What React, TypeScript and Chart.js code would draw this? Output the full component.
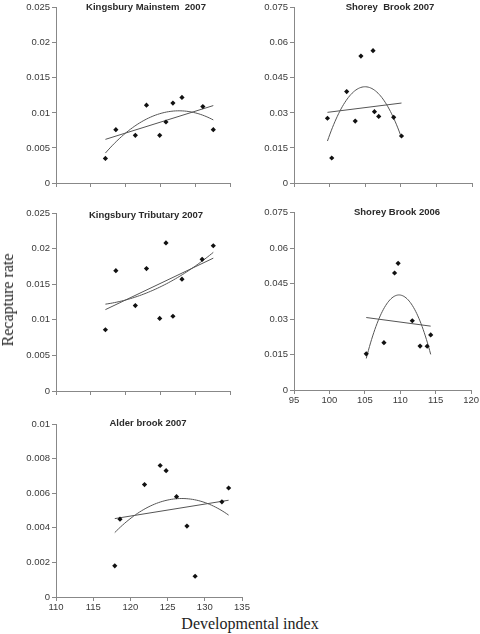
import React, { useEffect, useRef } from "react";
import { Chart, registerables } from "chart.js";

Chart.register(...registerables);

// ---------- Data ----------
const mainstemX = [117.1, 118.6, 121.4, 123.0, 124.9, 125.8, 126.8, 128.1, 131.1, 132.6];
const mainstemY = [0.0035, 0.0076, 0.0068, 0.0111, 0.0068, 0.0087, 0.0114, 0.0122, 0.0109, 0.0076];

const tributaryX = [117.1, 118.6, 121.4, 123.0, 124.9, 125.8, 126.8, 128.1, 131.0, 132.6];
const tributaryY = [0.0086, 0.0169, 0.0120, 0.0172, 0.0102, 0.0208, 0.0105, 0.0157, 0.0185, 0.0204];

const alderX = [117.9, 118.6, 121.9, 124.0, 124.8, 126.2, 127.6, 128.7, 132.3, 133.2];
const alderY = [0.0018, 0.0045, 0.0065, 0.0076, 0.0073, 0.0058, 0.0041, 0.0012, 0.0055, 0.0063];

const shorey07X = [99.7, 100.3, 102.4, 103.6, 104.4, 106.1, 106.3, 106.9, 109.0, 110.1];
const shorey07Y = [0.0277, 0.0107, 0.0391, 0.0265, 0.0543, 0.0566, 0.0305, 0.0285, 0.0281, 0.0201];

const shorey06X = [105.2, 107.7, 109.2, 109.7, 111.7, 112.8, 113.8, 114.3];
const shorey06Y = [0.0153, 0.0200, 0.0495, 0.0536, 0.0293, 0.0186, 0.0185, 0.0233];

const leftXTicks = [110, 115, 120, 125, 130, 135];
const rightXTicks = [95, 100, 105, 110, 115, 120];
const smallYTicks = [0, 0.005, 0.01, 0.015, 0.02, 0.025];
const largeYTicks = [0, 0.015, 0.03, 0.045, 0.06, 0.075];
const alderYTicks = [0, 0.002, 0.004, 0.006, 0.008, 0.01];

const titles = [
  "Kingsbury Mainstem  2007",
  "Shorey  Brook 2007",
  "Kingsbury Tributary 2007",
  "Shorey Brook 2006",
  "Alder brook 2007",
];

// ---------- Regression helpers (computed from the data above) ----------
function linFit(xs: number[], ys: number[]) {
  const n = xs.length;
  const mx = xs.reduce((a, b) => a + b, 0) / n;
  const my = ys.reduce((a, b) => a + b, 0) / n;
  let sxy = 0, sxx = 0;
  for (let i = 0; i < n; i++) {
    sxy += (xs[i] - mx) * (ys[i] - my);
    sxx += (xs[i] - mx) * (xs[i] - mx);
  }
  const b = sxy / sxx;
  const a = my - b * mx;
  return (x: number) => a + b * x;
}

function quadFit(xs: number[], ys: number[]) {
  const n = xs.length;
  const mx = xs.reduce((a, b) => a + b, 0) / n;
  const s = [0, 0, 0, 0, 0];
  const t = [0, 0, 0];
  for (let i = 0; i < n; i++) {
    const u = xs[i] - mx;
    let p = 1;
    for (let k = 0; k < 5; k++) {
      s[k] += p;
      if (k < 3) t[k] += p * ys[i];
      p *= u;
    }
  }
  const M = [
    [s[0], s[1], s[2], t[0]],
    [s[1], s[2], s[3], t[1]],
    [s[2], s[3], s[4], t[2]],
  ];
  for (let c = 0; c < 3; c++) {
    let piv = c;
    for (let r = c + 1; r < 3; r++) if (Math.abs(M[r][c]) > Math.abs(M[piv][c])) piv = r;
    [M[c], M[piv]] = [M[piv], M[c]];
    for (let r = 0; r < 3; r++) {
      if (r === c) continue;
      const f = M[r][c] / M[c][c];
      for (let k = c; k < 4; k++) M[r][k] -= f * M[c][k];
    }
  }
  const c0 = M[0][3] / M[0][0];
  const c1 = M[1][3] / M[1][1];
  const c2 = M[2][3] / M[2][2];
  return (x: number) => {
    const u = x - mx;
    return c0 + c1 * u + c2 * u * u;
  };
}

const titlePlugin = {
  id: "panelTitle",
  afterDraw(chart: any, _args: any, opts: any) {
    if (!opts || !opts.text) return;
    const ctx = chart.ctx;
    ctx.save();
    ctx.font = 'bold 9.5px "Liberation Sans", Arial, sans-serif';
    ctx.fillStyle = "#2a2a2a";
    ctx.textAlign = "center";
    ctx.textBaseline = "middle";
    ctx.fillText(opts.text, opts.x, opts.y);
    ctx.restore();
  },
};

type PanelProps = {
  xs: number[];
  ys: number[];
  xTicks: number[];
  yTicks: number[];
  showXLabels: boolean;
  title: string;
  left: number;
  top: number;
  width: number;
  height: number;
  yAxisWidth: number;
  xAxisHeight: number;
  padTop: number;
  padRight: number;
  titleX: number;
  titleY: number;
};

function Panel(p: PanelProps) {
  const ref = useRef<HTMLCanvasElement | null>(null);
  useEffect(() => {
    if (!ref.current) return;
    const lin = linFit(p.xs, p.ys);
    const quad = quadFit(p.xs, p.ys);
    const x0 = Math.min(...p.xs);
    const x1 = Math.max(...p.xs);
    const curve: { x: number; y: number }[] = [];
    const N = 60;
    for (let i = 0; i <= N; i++) {
      const x = x0 + ((x1 - x0) * i) / N;
      curve.push({ x, y: quad(x) });
    }
    const line = [
      { x: x0, y: lin(x0) },
      { x: x1, y: lin(x1) },
    ];
    const pts = p.xs.map((x, i) => ({ x, y: p.ys[i] }));
    const tickFont = { family: '"Liberation Sans", Arial, sans-serif', size: 9.5 };
    const chart = new Chart(ref.current, {
      type: "scatter",
      data: {
        datasets: [
          {
            data: pts,
            pointStyle: "rectRot",
            pointRadius: 2.6,
            backgroundColor: "#111",
            borderColor: "#111",
            borderWidth: 0,
            showLine: false,
          },
          {
            data: line,
            showLine: true,
            pointRadius: 0,
            borderColor: "#555",
            borderWidth: 1,
            fill: false,
          },
          {
            data: curve,
            showLine: true,
            pointRadius: 0,
            borderColor: "#555",
            borderWidth: 1,
            fill: false,
            tension: 0,
          },
        ],
      },
      options: {
        animation: false,
        responsive: false,
        maintainAspectRatio: false,
        devicePixelRatio: 1,
        layout: { padding: { top: p.padTop, right: p.padRight, left: 0, bottom: 0 } },
        plugins: {
          legend: { display: false },
          tooltip: { enabled: false },
          // @ts-ignore
          panelTitle: { text: p.title, x: p.titleX - p.left, y: p.titleY - p.top },
        },
        scales: {
          x: {
            type: "linear",
            min: p.xTicks[0],
            max: p.xTicks[p.xTicks.length - 1],
            afterBuildTicks: (s: any) => {
              s.ticks = p.xTicks.map((v) => ({ value: v }));
            },
            afterFit: (s: any) => {
              s.height = p.xAxisHeight;
            },
            ticks: {
              display: p.showXLabels,
              color: "#3a3a3a",
              font: tickFont,
              padding: 1,
              maxRotation: 0,
              autoSkip: false,
            },
            grid: { drawOnChartArea: false, drawTicks: true, tickLength: 4, color: "#888", lineWidth: 1 },
            border: { display: true, color: "#888", width: 1 },
          },
          y: {
            type: "linear",
            min: p.yTicks[0],
            max: p.yTicks[p.yTicks.length - 1],
            afterBuildTicks: (s: any) => {
              s.ticks = p.yTicks.map((v) => ({ value: v }));
            },
            afterFit: (s: any) => {
              s.width = p.yAxisWidth;
            },
            ticks: {
              color: "#3a3a3a",
              font: tickFont,
              padding: 2,
              autoSkip: false,
              callback: (v: any) => String(+Number(v).toFixed(4)),
            },
            grid: { drawOnChartArea: false, drawTicks: true, tickLength: 4, color: "#888", lineWidth: 1 },
            border: { display: true, color: "#888", width: 1 },
          },
        },
      },
      plugins: [titlePlugin],
    } as any);
    return () => chart.destroy();
  }, []);
  return (
    <canvas
      ref={ref}
      width={p.width}
      height={p.height}
      style={{ position: "absolute", left: p.left, top: p.top, width: p.width, height: p.height }}
    />
  );
}

export default function App() {
  return (
    <div
      style={{
        position: "absolute",
        left: 0,
        top: 0,
        width: 480,
        height: 634,
        overflow: "hidden",
        background: "#fff",
      }}
    >
      <Panel
        xs={mainstemX} ys={mainstemY} xTicks={leftXTicks} yTicks={smallYTicks} showXLabels={false}
        title={titles[0]} left={0} top={0} width={244} height={200}
        yAxisWidth={56} xAxisHeight={17} padTop={6} padRight={14} titleX={146} titleY={7.5}
      />
      <Panel
        xs={shorey07X} ys={shorey07Y} xTicks={rightXTicks} yTicks={largeYTicks} showXLabels={false}
        title={titles[1]} left={240} top={0} width={240} height={200}
        yAxisWidth={54} xAxisHeight={17} padTop={6} padRight={8} titleX={390} titleY={7}
      />
      <Panel
        xs={tributaryX} ys={tributaryY} xTicks={leftXTicks} yTicks={smallYTicks} showXLabels={false}
        title={titles[2]} left={0} top={205} width={244} height={205}
        yAxisWidth={56} xAxisHeight={19} padTop={8} padRight={14} titleX={146} titleY={215.5}
      />
      <Panel
        xs={shorey06X} ys={shorey06Y} xTicks={rightXTicks} yTicks={largeYTicks} showXLabels={true}
        title={titles[3]} left={240} top={205} width={240} height={207}
        yAxisWidth={54} xAxisHeight={22} padTop={6} padRight={8} titleX={397} titleY={212.5}
      />
      <Panel
        xs={alderX} ys={alderY} xTicks={leftXTicks} yTicks={alderYTicks} showXLabels={true}
        title={titles[4]} left={0} top={415} width={254} height={200}
        yAxisWidth={56} xAxisHeight={18} padTop={9} padRight={12} titleX={148} titleY={423.5}
      />
      <div
        style={{
          position: "absolute",
          left: 8,
          top: 300,
          transform: "translate(-50%, -50%) rotate(-90deg)",
          fontFamily: '"Liberation Serif", "Times New Roman", serif',
          fontSize: 16,
          color: "#222",
          whiteSpace: "nowrap",
        }}
      >
        Recapture rate
      </div>
      <div
        style={{
          position: "absolute",
          left: 250,
          top: 624,
          transform: "translate(-50%, -50%)",
          fontFamily: '"Liberation Serif", "Times New Roman", serif',
          fontSize: 16,
          color: "#222",
          whiteSpace: "nowrap",
        }}
      >
        Developmental index
      </div>
    </div>
  );
}
